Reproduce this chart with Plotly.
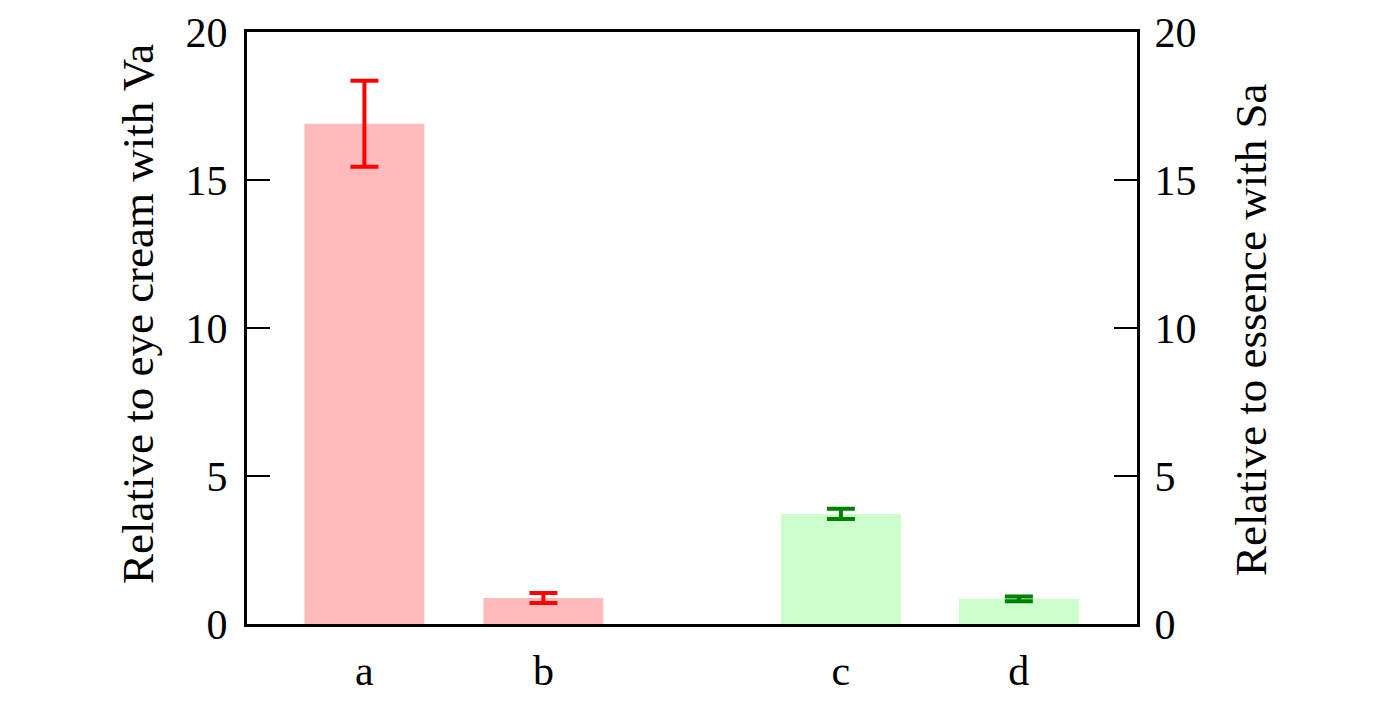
import plotly.graph_objects as go

categories = ["a", "b", "c", "d"]
eye_cream_values = [16.9, 0.88]
eye_cream_errors = [1.45, 0.17]
essence_values = [3.72, 0.85]
essence_errors = [0.17, 0.08]
y_ticks = [0, 5, 10, 15, 20]
left_title = "Relative to eye cream with Va"
right_title = "Relative to essence with Sa"

# layout positions of the bars along the x axis
x_pos = [1.0, 2.0, 3.662, 4.656]

fig = go.Figure()
fig.add_trace(go.Bar(
    x=x_pos[:2], y=eye_cream_values, width=0.67,
    marker=dict(color="#ffbbbb", line=dict(width=0)),
    error_y=dict(type="data", array=eye_cream_errors, color="#ff0000", thickness=4, width=14),
    showlegend=False, yaxis="y"))
fig.add_trace(go.Bar(
    x=x_pos[2:], y=essence_values, width=0.67,
    marker=dict(color="#ccffcc", line=dict(width=0)),
    error_y=dict(type="data", array=essence_errors, color="#008000", thickness=4, width=14),
    showlegend=False, yaxis="y2"))

family = "Liberation Serif, Times New Roman, serif"
tick_font = dict(family=family, size=42, color="black")
title_font = dict(family=family, size=45, color="black")

fig.update_layout(
    width=1377, height=709,
    margin=dict(l=239, r=248, t=24, b=93),
    paper_bgcolor="white", plot_bgcolor="white",
    font=tick_font, barmode="overlay",
    xaxis=dict(range=[0.344, 5.316], tickvals=x_pos, ticktext=categories,
               showline=True, linecolor="black", linewidth=3, mirror=True,
               ticks="", showgrid=False, zeroline=False, tickfont=tick_font,
               ticklabelstandoff=8, automargin=False),
    yaxis=dict(range=[0, 20], tickvals=y_ticks, showline=True, linecolor="black", linewidth=3,
               ticks="inside", ticklen=23, tickwidth=2, tickcolor="black",
               showgrid=False, zeroline=False, tickfont=tick_font, automargin=False,
               ticklabelstandoff=8),
    yaxis2=dict(range=[0, 20], tickvals=y_ticks, overlaying="y", side="right",
                showline=True, linecolor="black", linewidth=3,
                ticks="inside", ticklen=23, tickwidth=2, tickcolor="black",
                showgrid=False, zeroline=False, tickfont=tick_font, automargin=False,
                ticklabelstandoff=6),
    annotations=[
        dict(text=left_title, textangle=-90, xref="paper", yref="paper",
             x=-0.1225, y=0.5236, xanchor="center", yanchor="middle",
             showarrow=False, font=title_font),
        dict(text=right_title, textangle=-90, xref="paper", yref="paper",
             x=1.128, y=0.4966, xanchor="center", yanchor="middle",
             showarrow=False, font=title_font),
    ],
)
fig.write_html("out.html")
